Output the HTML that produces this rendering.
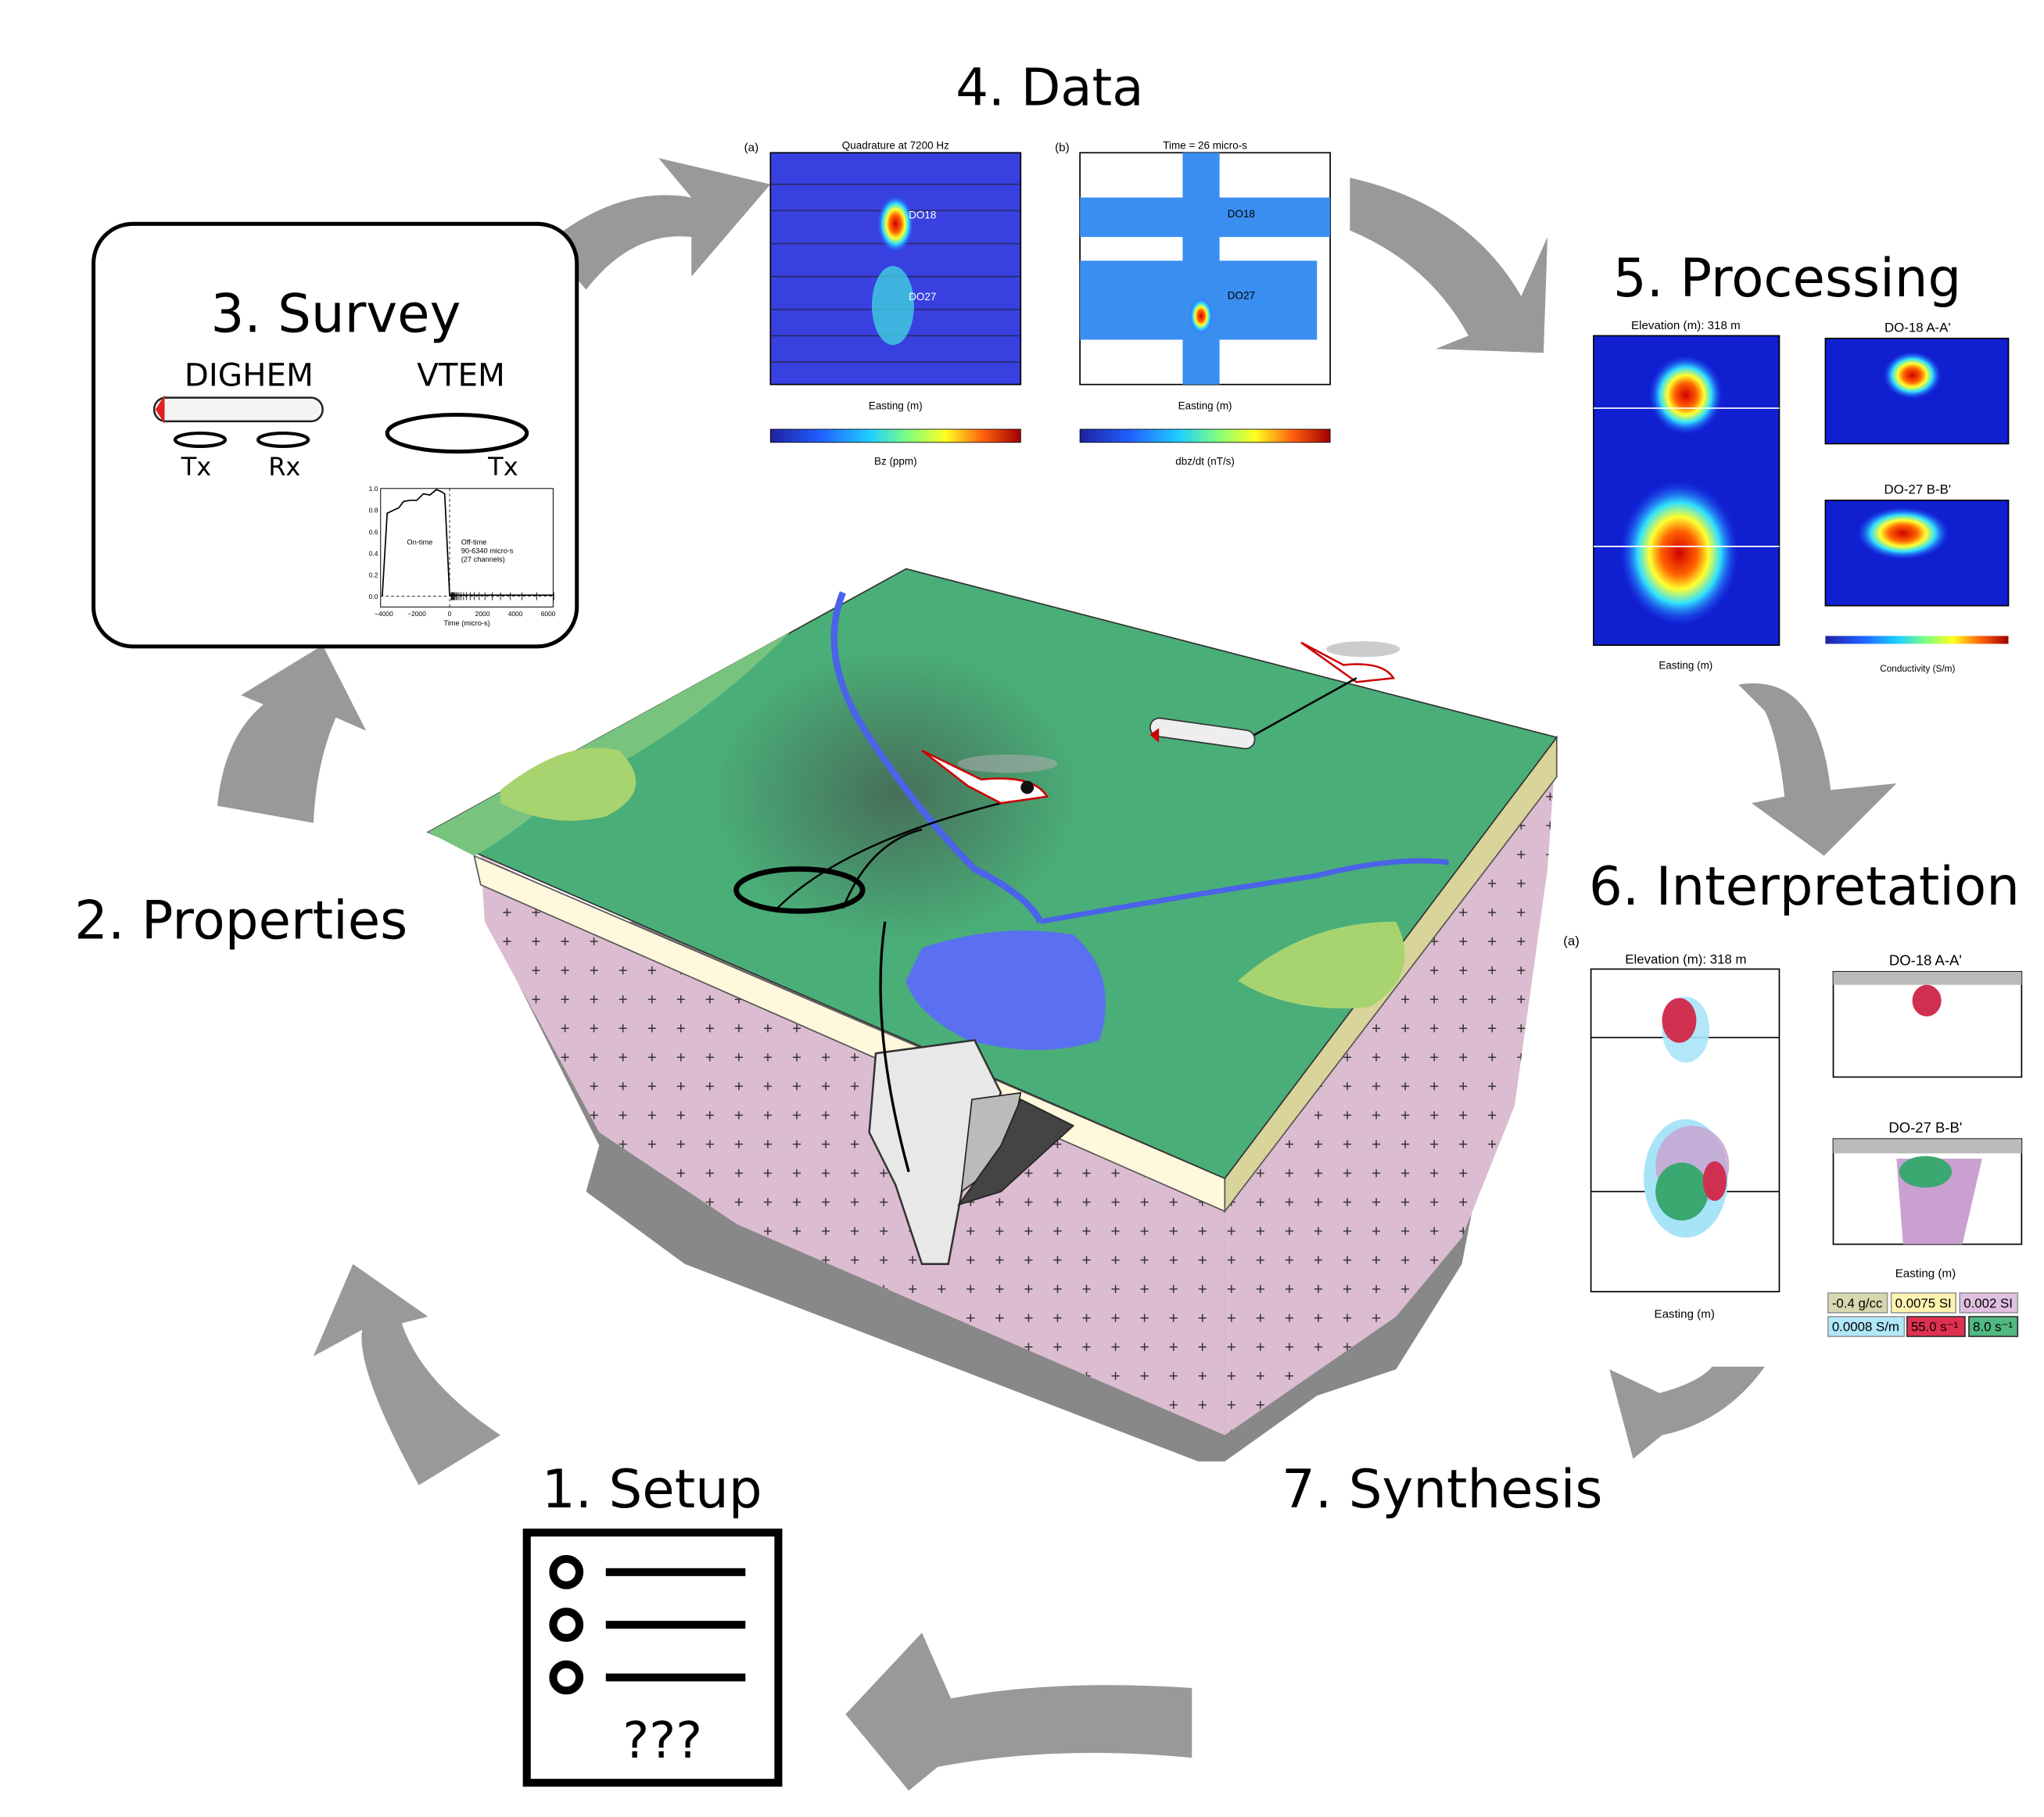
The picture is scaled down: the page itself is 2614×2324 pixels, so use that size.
<!DOCTYPE html>
<html><head><meta charset="utf-8"><style>
html,body{margin:0;padding:0;background:#fff}
svg{display:block}
text{font-family:"Liberation Sans",sans-serif}
.t{font-family:"DejaVu Sans","Liberation Sans",sans-serif;fill:#000}
</style></head><body>
<svg id="fig" width="2614" height="2324" viewBox="0 0 1552 1380" preserveAspectRatio="none" xmlns="http://www.w3.org/2000/svg">
<defs>
<radialGradient id="dark" cx="0.45" cy="0.45" r="0.35"><stop offset="0" stop-color="#444" stop-opacity="0.6"/><stop offset="1" stop-color="#444" stop-opacity="0"/></radialGradient>
<linearGradient id="cb1" x1="0" x2="1"><stop offset="0" stop-color="#2020a0"/><stop offset="0.2" stop-color="#2060ff"/><stop offset="0.4" stop-color="#20d0ff"/><stop offset="0.55" stop-color="#80ff80"/><stop offset="0.7" stop-color="#ffff20"/><stop offset="0.85" stop-color="#ff6010"/><stop offset="1" stop-color="#a00000"/></linearGradient>
<radialGradient id="hot" cx="0.5" cy="0.5" r="0.5"><stop offset="0" stop-color="#d00000"/><stop offset="0.3" stop-color="#ff6000"/><stop offset="0.5" stop-color="#ffff30"/><stop offset="0.7" stop-color="#30e0ff"/><stop offset="1" stop-color="#2040ff" stop-opacity="0"/></radialGradient>
<pattern id="cross" width="22" height="22" patternUnits="userSpaceOnUse"><path d="M8 11h6M11 8v6" stroke="#333" stroke-width="0.9"/></pattern>
</defs>

<g fill="#999">
<path d="M415 185 Q470 140 525 150 L500 120 L585 140 L525 210 L525 180 Q480 175 445 220 Z"/>
<path d="M1025 135 Q1115 155 1155 225 L1175 180 L1172 268 L1090 265 L1115 255 Q1085 200 1025 175 Z"/>
<path d="M1320 520 Q1380 510 1390 600 L1440 595 L1385 650 L1330 610 L1355 605 Q1350 560 1340 540 Z"/>
<path d="M1340 1038 Q1310 1080 1262 1090 L1240 1108 L1222 1040 L1260 1058 Q1290 1050 1300 1038 Z"/>
<path d="M905 1282 Q800 1275 722 1290 L700 1240 L642 1302 L690 1360 L712 1342 Q800 1325 905 1335 Z"/>
<path d="M318 1128 Q270 1040 275 1010 L238 1030 L268 960 L325 1000 L305 1005 Q320 1050 380 1090 Z"/>
<path d="M165 612 Q170 560 200 535 L183 528 L245 490 L278 555 L255 545 Q240 580 238 625 Z"/>
</g>

<text class="t" x="797" y="80" font-size="39" text-anchor="middle">4. Data</text>
<text class="t" x="1357" y="225" font-size="40" text-anchor="middle">5. Processing</text>
<text class="t" x="1370" y="687" font-size="40" text-anchor="middle">6. Interpretation</text>
<text class="t" x="1095" y="1145" font-size="40" text-anchor="middle">7. Synthesis</text>
<text class="t" x="495" y="1145" font-size="40" text-anchor="middle">1. Setup</text>
<text class="t" x="183" y="713" font-size="40" text-anchor="middle">2. Properties</text>

<g>
<rect x="71" y="170" width="367" height="321" rx="30" fill="#fff" stroke="#000" stroke-width="3"/>
<text class="t" x="255" y="252" font-size="40" text-anchor="middle">3. Survey</text>
<text class="t" x="189" y="293" font-size="24" text-anchor="middle">DIGHEM</text>
<text class="t" x="350" y="293" font-size="24" text-anchor="middle">VTEM</text>
<rect x="117" y="302" width="128" height="18" rx="9" fill="#f4f4f4" stroke="#222" stroke-width="1.5"/>
<path d="M125 300 L118 311 L125 322" fill="#e02020"/>
<ellipse cx="152" cy="334" rx="19" ry="5" fill="none" stroke="#000" stroke-width="2.5"/>
<ellipse cx="215" cy="334" rx="19" ry="5" fill="none" stroke="#000" stroke-width="2.5"/>
<text class="t" x="149" y="361" font-size="19" text-anchor="middle">Tx</text>
<text class="t" x="216" y="361" font-size="19" text-anchor="middle">Rx</text>
<ellipse cx="347" cy="329" rx="53" ry="14" fill="none" stroke="#000" stroke-width="3"/>
<text class="t" x="382" y="361" font-size="19" text-anchor="middle">Tx</text>
<g id="wave"></g>
</g>

<g>
<rect x="400" y="1164" width="191" height="190" fill="#fff" stroke="#000" stroke-width="6"/>
<g fill="none" stroke="#000" stroke-width="6"><circle cx="430" cy="1194" r="10"/><circle cx="430" cy="1234" r="10"/><circle cx="430" cy="1274" r="10"/></g>
<g stroke="#000" stroke-width="6"><path d="M460 1194h106M460 1234h106M460 1274h106"/></g>
<text class="t" x="503" y="1335" font-size="38" text-anchor="middle">???</text>
</g>

<g>
<path d="M370 700 L455 870 L445 905 L520 960 L910 1110 L930 1110 L1000 1060 L1060 1040 L1110 960 L1160 700 Z" fill="#888"/>
<path d="M365 650 L930 920 L930 1090 L560 930 L455 860 L368 700 Z" fill="#dcbcd0"/>
<path d="M930 920 L1182 560 L1175 660 L1150 840 L1110 940 L1060 1000 L930 1090 Z" fill="#dcbcd0"/>
<path d="M365 650 L930 920 L930 1090 L560 930 L455 860 L368 700 Z" fill="url(#cross)"/>
<path d="M930 920 L1182 560 L1175 660 L1150 840 L1110 940 L1060 1000 L930 1090 Z" fill="url(#cross)"/>
<path d="M360 650 L930 895 L930 920 L365 672 Z" fill="#fff8dc" stroke="#555" stroke-width="1"/>
<path d="M930 895 L1182 560 L1182 590 L930 920 Z" fill="#d8d49a" stroke="#555" stroke-width="1"/>
<path d="M325 632 L688 432 L1182 560 L930 895 Z" fill="#4aae78" stroke="#333" stroke-width="1"/>
<path d="M325 632 L600 480 Q520 560 430 600 Q380 640 360 650 Z" fill="#78c47e"/>
<path d="M380 600 Q430 560 470 570 Q500 600 460 620 Q420 630 380 610 Z" fill="#a8d470"/>
<path d="M940 745 Q990 700 1060 700 Q1080 740 1040 765 Q980 770 940 745 Z" fill="#a8d470"/>
<ellipse cx="700" cy="620" rx="200" ry="160" fill="url(#dark)"/>
<path d="M640 450 Q620 500 660 560 Q700 620 740 660 Q780 680 790 700" stroke="#4a63e8" stroke-width="5" fill="none"/>
<path d="M790 700 Q900 680 1000 665 Q1060 650 1100 655" stroke="#4a63e8" stroke-width="4" fill="none"/>
<path d="M700 720 Q760 700 815 710 Q850 740 835 790 Q790 805 735 790 Q695 770 688 745 Z" fill="#5a70f0"/>
<path d="M665 800 L740 790 L760 830 L735 880 L720 960 L700 960 L680 900 L660 860 Z" fill="#e8e8e8" stroke="#333" stroke-width="1.5"/>
<path d="M738 835 L775 830 L765 880 L730 905 Z" fill="#bbb" stroke="#222"/>
<path d="M775 835 L815 855 L760 905 L728 915 L760 870 Z" fill="#444" stroke="#222"/>
<path d="M672 700 Q660 780 690 890" stroke="#000" stroke-width="2" fill="none"/>
<ellipse cx="607" cy="676" rx="48" ry="16" fill="none" stroke="#000" stroke-width="4"/>
<path d="M590 690 Q640 640 760 610 M640 690 Q660 640 700 630" stroke="#000" stroke-width="1.5" fill="none"/>
<g>
<ellipse cx="765" cy="580" rx="38" ry="7" fill="#aaa" opacity="0.6"/>
<path d="M700 570 L745 592 Q785 588 795 605 L760 610 L735 597 Z" fill="#fff" stroke="#c00" stroke-width="1.5"/>
<circle cx="780" cy="598" r="5" fill="#111"/>
</g>
<g>
<ellipse cx="1035" cy="493" rx="28" ry="6" fill="#aaa" opacity="0.6"/>
<path d="M988 488 L1020 505 Q1050 502 1058 515 L1030 518 Z" fill="#fff" stroke="#c00" stroke-width="1.5"/>
</g>
<path d="M940 565 L1030 515" stroke="#000" stroke-width="1.5"/>
<rect x="873" y="550" width="80" height="14" rx="7" transform="rotate(8 913 557)" fill="#eee" stroke="#333"/>
<path d="M880 553 L873 558 L880 564" fill="#c00"/>
</g>

<g>
<text x="565" y="115" font-size="9">(a)</text><text x="680" y="113" font-size="8" text-anchor="middle">Quadrature at 7200 Hz</text>
<rect x="585" y="116" width="190" height="176" fill="#3840e0" stroke="#000"/>
<g stroke="#223" stroke-width="1" fill="none" opacity="0.7"><path d="M585 140h190M585 160h190M585 185h190M585 210h190M585 235h190M585 255h190M585 275h190"/></g>
<ellipse cx="680" cy="170" rx="14" ry="22" fill="url(#hot)"/>
<ellipse cx="678" cy="232" rx="16" ry="30" fill="#40d0e0" opacity="0.8"/>
<text x="690" y="166" font-size="8" fill="#fff">DO18</text><text x="690" y="228" font-size="8" fill="#fff">DO27</text>
<text x="680" y="311" font-size="8" text-anchor="middle">Easting (m)</text>
<rect x="585" y="326" width="190" height="10" fill="url(#cb1)" stroke="#000" stroke-width="0.5"/>
<text x="680" y="353" font-size="8" text-anchor="middle">Bz (ppm)</text>
</g>
<g>
<text x="801" y="115" font-size="9">(b)</text><text x="915" y="113" font-size="8" text-anchor="middle">Time = 26 micro-s</text>
<rect x="820" y="116" width="190" height="176" fill="#fff" stroke="#000"/>
<rect x="820" y="150" width="190" height="30" fill="#3a8ef0"/>
<rect x="820" y="198" width="180" height="60" fill="#3a8ef0"/>
<rect x="898" y="116" width="28" height="176" fill="#3a8ef0"/>
<ellipse cx="912" cy="240" rx="9" ry="14" fill="url(#hot)"/>
<text x="932" y="165" font-size="8">DO18</text><text x="932" y="227" font-size="8">DO27</text>
<text x="915" y="311" font-size="8" text-anchor="middle">Easting (m)</text>
<rect x="820" y="326" width="190" height="10" fill="url(#cb1)" stroke="#000" stroke-width="0.5"/>
<text x="915" y="353" font-size="8" text-anchor="middle">dbz/dt (nT/s)</text>
</g>

<g>
<text x="1280" y="250" font-size="9" text-anchor="middle">Elevation (m): 318 m</text>
<rect x="1210" y="255" width="141" height="235" fill="#1020d0" stroke="#000"/>
<ellipse cx="1280" cy="300" rx="28" ry="30" fill="url(#hot)"/>
<ellipse cx="1275" cy="420" rx="45" ry="55" fill="url(#hot)"/>
<path d="M1210 310h141M1210 415h141" stroke="#fff"/>
<text x="1280" y="508" font-size="8" text-anchor="middle">Easting (m)</text>
<text x="1456" y="252" font-size="10" text-anchor="middle">DO-18 A-A'</text>
<rect x="1386" y="257" width="139" height="80" fill="#1020d0" stroke="#000"/>
<ellipse cx="1452" cy="285" rx="22" ry="18" fill="url(#hot)"/>
<text x="1456" y="375" font-size="10" text-anchor="middle">DO-27 B-B'</text>
<rect x="1386" y="380" width="139" height="80" fill="#1020d0" stroke="#000"/>
<ellipse cx="1445" cy="405" rx="35" ry="20" fill="url(#hot)"/>
<rect x="1386" y="483" width="139" height="6" fill="url(#cb1)"/>
<text x="1456" y="510" font-size="7" text-anchor="middle">Conductivity (S/m)</text>
</g>

<g>
<text x="1187" y="718" font-size="10">(a)</text>
<text x="1280" y="732" font-size="10" text-anchor="middle">Elevation (m): 318 m</text>
<rect x="1208" y="736" width="143" height="245" fill="#fff" stroke="#000"/>
<path d="M1208 788h143M1208 905h143" stroke="#000"/>
<ellipse cx="1280" cy="782" rx="18" ry="25" fill="#a8e4f8" opacity="0.9"/><ellipse cx="1275" cy="775" rx="13" ry="17" fill="#d03050"/>
<ellipse cx="1280" cy="895" rx="32" ry="45" fill="#a8e4f8"/><ellipse cx="1285" cy="885" rx="28" ry="30" fill="#c9a0d0" opacity="0.8"/>
<ellipse cx="1277" cy="905" rx="20" ry="22" fill="#3aa870"/><ellipse cx="1302" cy="897" rx="9" ry="15" fill="#d03050"/>
<text x="1279" y="1001" font-size="9" text-anchor="middle">Easting (m)</text>
<text x="1462" y="733" font-size="11" text-anchor="middle">DO-18 A-A'</text>
<rect x="1392" y="738" width="143" height="80" fill="#fff" stroke="#000"/><rect x="1392" y="738" width="143" height="10" fill="#bbb"/>
<ellipse cx="1463" cy="760" rx="11" ry="12" fill="#d03050"/>
<text x="1462" y="860" font-size="11" text-anchor="middle">DO-27 B-B'</text>
<rect x="1392" y="865" width="143" height="80" fill="#fff" stroke="#000"/><rect x="1392" y="865" width="143" height="11" fill="#bbb"/>
<path d="M1440 880 L1505 880 L1490 945 L1445 945 Z" fill="#c9a0d0"/><ellipse cx="1462" cy="890" rx="20" ry="12" fill="#3aa870"/>
<text x="1462" y="970" font-size="9" text-anchor="middle">Easting (m)</text>
<g font-size="10">
<rect x="1388" y="982" width="45" height="15" fill="#d8d8b0" stroke="#999"/><text x="1391" y="993">-0.4 g/cc</text>
<rect x="1436" y="982" width="49" height="15" fill="#fff4b0" stroke="#999"/><text x="1439" y="993">0.0075 SI</text>
<rect x="1488" y="982" width="44" height="15" fill="#e0c0e0" stroke="#999"/><text x="1491" y="993">0.002 SI</text>
<rect x="1388" y="1000" width="58" height="15" fill="#b0e8fa" stroke="#999"/><text x="1391" y="1011">0.0008 S/m</text>
<rect x="1448" y="1000" width="44" height="15" fill="#e03050" stroke="#333"/><text x="1451" y="1011">55.0 s⁻¹</text>
<rect x="1495" y="1000" width="37" height="15" fill="#50b880" stroke="#333"/><text x="1498" y="1011">8.0 s⁻¹</text>
</g>
</g>

<script>
const waveTimes=[-4100,-3800,-3400,-3100,-2800,-2400,-2000,-1600,-1200,-800,-500,-300,0,100,6300];
const waveAmps=[0,0.77,0.8,0.82,0.88,0.89,0.89,0.95,0.94,0.99,0.97,0.95,0.01,0.01,0.01];
const channelTimes=[90,130,170,210,260,320,390,470,570,700,850,1030,1250,1500,1800,2150,2600,3100,3700,4400,5300,6340];
const yTicks=[0,0.2,0.4,0.6,0.8,1.0];
const xTicks=[-4000,-2000,0,2000,4000,6000];
const NS='http://www.w3.org/2000/svg';
const g=document.getElementById('wave');
const L=289,R=420,T=371,B=461;
const xs=v=>L+(v+4200)/(6300+4200)*(R-L);
const ys=v=>B-(v+0.1)/1.1*(B-T);
function mk(t,a){const e=document.createElementNS(NS,t);for(const k in a)e.setAttribute(k,a[k]);g.appendChild(e);return e;}
const fr=mk('rect',{x:L,y:T,width:R-L,height:B-T,fill:'#fff',stroke:'#000','stroke-width':0.6});


mk('line',{x1:L,x2:R,y1:ys(0),y2:ys(0),stroke:'#000','stroke-width':0.5,'stroke-dasharray':'2,2'});
mk('line',{x1:xs(0),x2:xs(0),y1:T,y2:B,stroke:'#000','stroke-width':0.5,'stroke-dasharray':'2,2'});
channelTimes.forEach(t=>{const c=mk('line',{x1:xs(t),x2:xs(t),y1:ys(0)-3,y2:ys(0)+3,stroke:'#000','stroke-width':0.5});

});
const ln=mk('polyline',{points:waveTimes.map((t,i)=>xs(t)+','+ys(waveAmps[i])).join(' '),fill:'none',stroke:'#000','stroke-width':1});


yTicks.forEach(v=>{const t=mk('text',{x:L-2,y:ys(v)+2,'font-size':5,'text-anchor':'end','font-family':'Liberation Serif'});t.textContent=v.toFixed(1);

});
xTicks.forEach(v=>{const t=mk('text',{x:xs(v),y:B+7,'font-size':5,'text-anchor':'middle','font-family':'Liberation Serif'});t.textContent=v<0?'\u2212'+(-v):v;

});
const xl=mk('text',{x:(L+R)/2,y:B+14,'font-size':5.5,'text-anchor':'middle'});xl.textContent='Time (micro-s)';


const a1=mk('text',{x:xs(-2600),y:ys(0.48),'font-size':5.5});a1.textContent='On-time';
const a2=mk('text',{x:xs(700),y:ys(0.48),'font-size':5.5});a2.textContent='Off-time';
const a3=mk('text',{x:xs(700),y:ys(0.40),'font-size':5.5});a3.textContent='90-6340 micro-s';
const a4=mk('text',{x:xs(700),y:ys(0.32),'font-size':5.5});a4.textContent='(27 channels)';
</script>
</svg>
</body></html>
